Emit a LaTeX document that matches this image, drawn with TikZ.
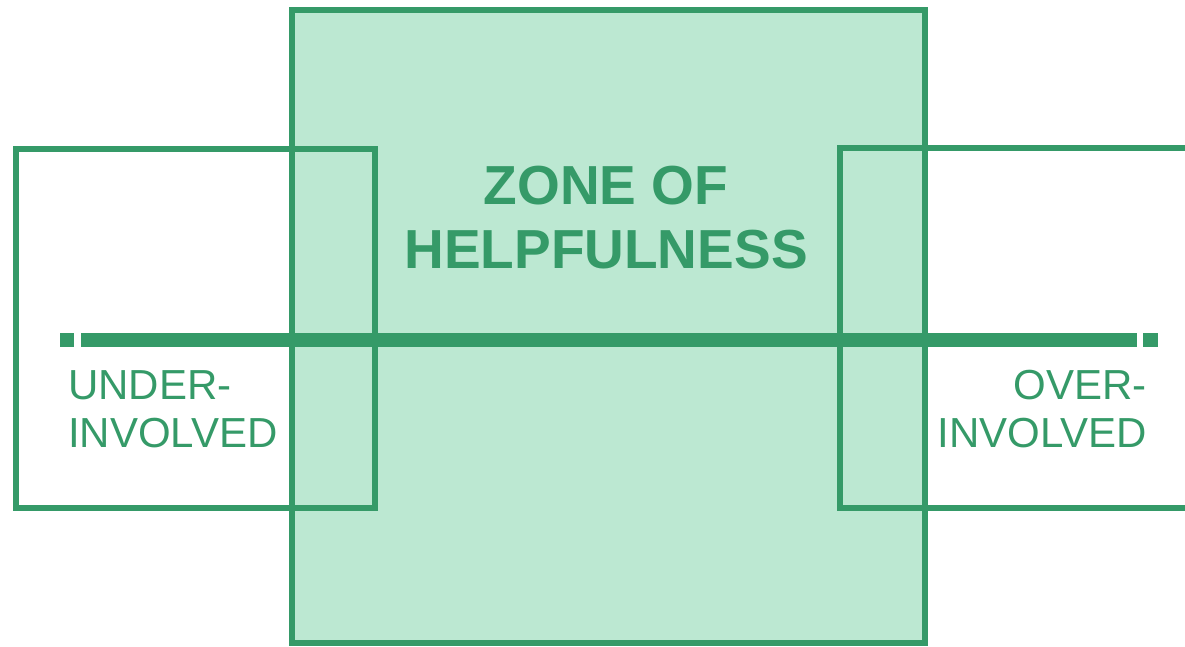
\documentclass[tikz,border=0pt]{standalone}
\usepackage{fontspec}
\setmainfont{Liberation Sans}
\definecolor{zonegreen}{RGB}{53,154,104}
\definecolor{zonefill}{RGB}{188,232,210}
\begin{document}
\begin{tikzpicture}[x=1pt, y=-1pt,
	frame/.style={draw=zonegreen, line width=6pt},
	axisline/.style={draw=zonegreen, line width=14pt},
	title/.style={text=zonegreen, inner sep=0pt, align=center, font=\fontsize{55}{64}\selectfont\bfseries},
	label/.style={text=zonegreen, inner sep=0pt, font=\fontsize{42}{48}\selectfont}]
	\useasboundingbox (0,0) rectangle (1185,646);

	% --- Zone centrale ---
	\draw[frame, fill=zonefill] (292,10) rectangle (925,643);
	\node[title, anchor=base] (zone) at (606,268) {ZONE OF\\HELPFULNESS};

	% --- Cadres lateraux ---
	\draw[frame] (16,149) rectangle (375,508);
	\draw[frame] (1185,148) -- (840,148) -- (840,508) -- (1185,508);

	% --- Axe ---
	\draw[axisline] (81,340) -- (1137,340);
	\fill[zonegreen] (60,333) rectangle (74,347);
	\fill[zonegreen] (1143,333) rectangle (1158,347);

	% --- Etiquettes ---
	\node[label, anchor=base west, align=left] (under) at (68,447) {UNDER-\\INVOLVED};
	\node[label, anchor=base east, align=right] (over) at (1147,447) {OVER-\\INVOLVED};
\end{tikzpicture}
\end{document}
